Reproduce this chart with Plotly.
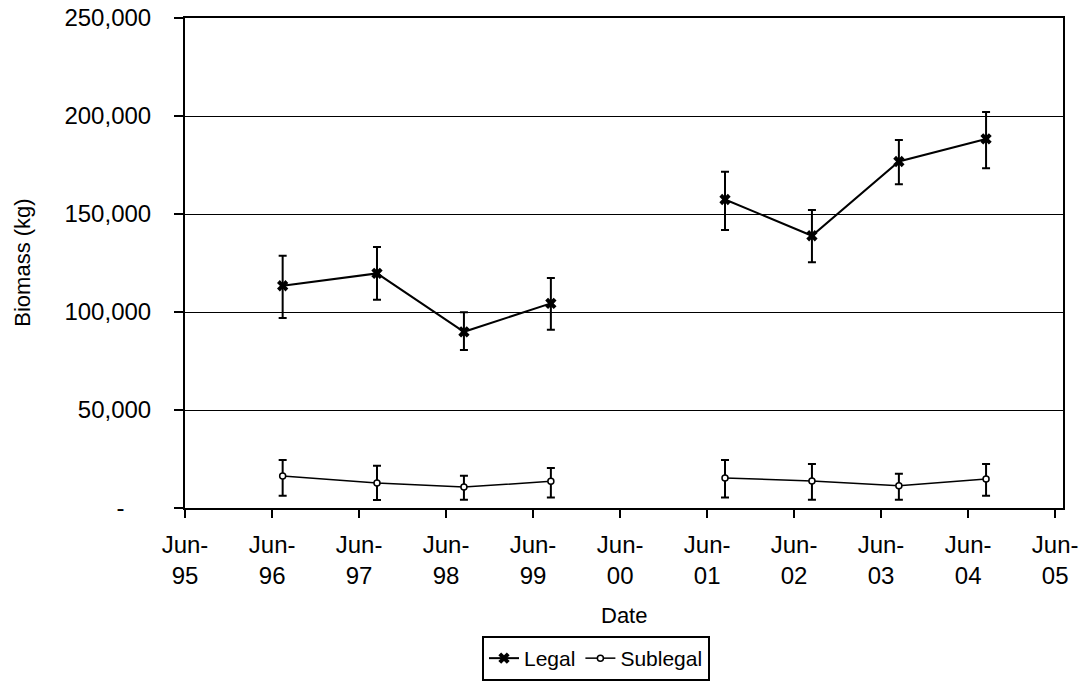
import plotly.graph_objects as go

# ---- data ----
dates = ["1996-07-15", "1997-08-15", "1998-08-15", "1999-08-15", "2000-08-15",
         "2001-08-15", "2002-08-15", "2003-08-15", "2004-08-15"]
legal = [113400, 119700, 89900, 104400, None, 157400, 138900, 176800, 188300]
legal_err_plus = [15300, 13400, 10000, 12900, None, 14100, 13200, 10900, 13800]
legal_err_minus = [16400, 13500, 9300, 13500, None, 15500, 13500, 11600, 14900]
sublegal = [16300, 12700, 10700, 13600, None, 15300, 13800, 11400, 14800]
sub_err_plus = [8200, 8900, 5800, 6800, None, 9200, 8600, 6100, 7600]
sub_err_minus = [10000, 8600, 6500, 8300, None, 10000, 9600, 7200, 8500]

tick_dates = ["%d-06-01" % y for y in range(1995, 2006)]
tick_text = ["Jun-<br>%02d" % (y % 100) for y in range(1995, 2006)]
y_tickvals = [0, 50000, 100000, 150000, 200000, 250000]
y_ticktext = ["-\u00a0\u00a0\u00a0\u00a0", "50,000", "100,000", "150,000", "200,000", "250,000"]

FONT = "Liberation Sans, Arial, sans-serif"
FS = 24

fig = go.Figure()
fig.add_trace(go.Scatter(
    x=dates, y=legal, name="Legal", mode="lines+markers", connectgaps=False,
    line=dict(color="black", width=2),
    marker=dict(symbol="x", size=10, color="black", line=dict(width=0)),
    error_y=dict(type="data", symmetric=False, array=legal_err_plus,
                 arrayminus=legal_err_minus, color="black", thickness=2, width=4),
))
fig.add_trace(go.Scatter(
    x=dates, y=sublegal, name="Sublegal", mode="lines+markers", connectgaps=False,
    line=dict(color="black", width=1.5),
    marker=dict(symbol="circle", size=6, color="white", line=dict(color="black", width=1.5)),
    error_y=dict(type="data", symmetric=False, array=sub_err_plus,
                 arrayminus=sub_err_minus, color="black", thickness=2, width=4),
))

fig.update_layout(
    width=1091, height=684,
    margin=dict(l=185, r=28, t=18, b=176, autoexpand=False),
    paper_bgcolor="white", plot_bgcolor="white",
    font=dict(family=FONT, size=FS, color="black"),
    showlegend=True,
    legend=dict(orientation="h", xref="container", yref="container",
                x=482 / 1091, xanchor="left", y=1 - 636 / 684, yanchor="top",
                bordercolor="black", borderwidth=2, bgcolor="white",
                font=dict(family=FONT, size=21, color="black"),
                itemwidth=30, tracegroupgap=0),
    xaxis=dict(
        type="date", range=["1995-06-01", "2005-07-04"],
        tickmode="array", tickvals=tick_dates, ticktext=tick_text,
        ticks="outside", ticklen=8, tickwidth=2, tickcolor="black",
        showline=True, linecolor="black", linewidth=2, mirror=True,
        showgrid=False, zeroline=False, automargin=False,
        ticklabelstandoff=6,
        tickfont=dict(family=FONT, size=FS, color="black"),
    ),
    yaxis=dict(
        range=[0, 250000], tickmode="array", tickvals=y_tickvals, ticktext=y_ticktext,
        ticks="outside", ticklen=9, tickwidth=2, tickcolor="black",
        showline=True, linecolor="black", linewidth=2, mirror=True,
        showgrid=True, gridcolor="black", gridwidth=1, zeroline=False,
        ticklabelstandoff=18, automargin=False,
        tickfont=dict(family=FONT, size=FS, color="black"),
    ),
    annotations=[
        dict(text="Biomass (kg)", xref="paper", yref="paper", x=-0.186, y=0.5,
             xanchor="center", yanchor="middle", textangle=-90, showarrow=False,
             font=dict(family=FONT, size=22, color="black")),
        dict(text="Date", xref="paper", yref="paper", x=0.5, y=-0.22,
             xanchor="center", yanchor="middle", showarrow=False,
             font=dict(family=FONT, size=22, color="black")),
    ],
)

fig.write_html("out.html")
